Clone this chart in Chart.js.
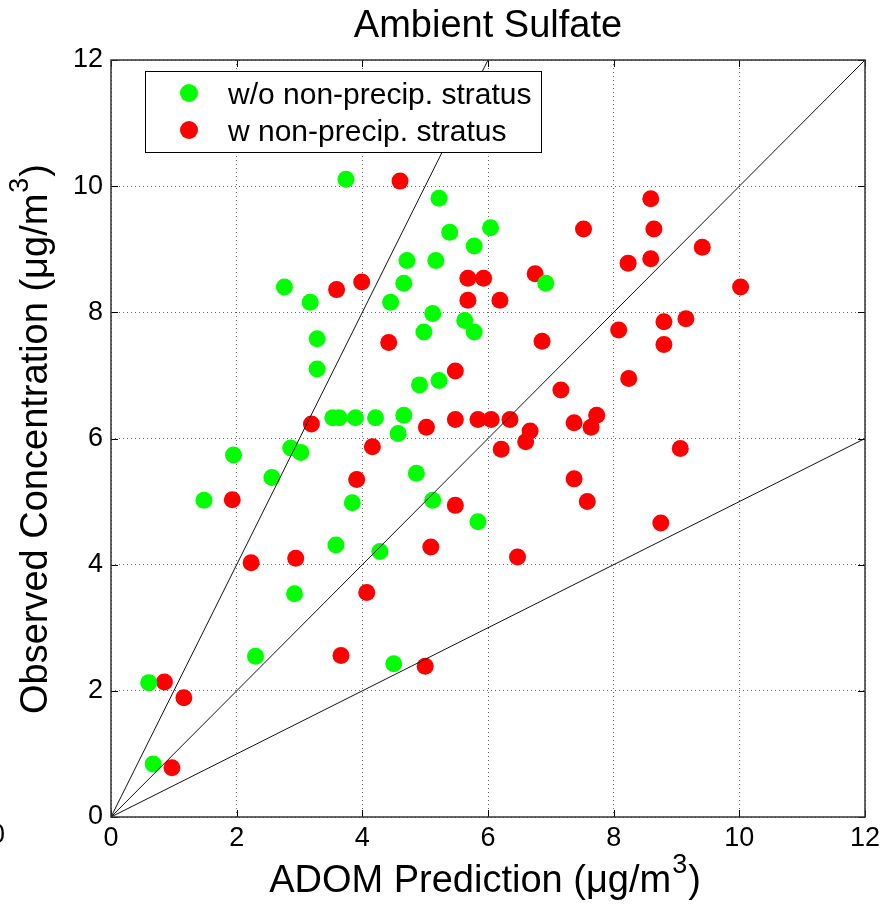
<!DOCTYPE html>
<html><head><meta charset="utf-8">
<script src="https://cdn.jsdelivr.net/npm/chart.js@4"></script>
<style>html,body{margin:0;padding:0;background:#fff}canvas{display:block}</style>
</head><body>
<canvas id="c" width="895" height="907"></canvas>
<script>
const titleText = 'Ambient Sulfate';
const seriesLabels = ['w/o non-precip. stratus', 'w non-precip. stratus'];
const xTicks = [0, 2, 4, 6, 8, 10, 12];
const yTicks = [0, 2, 4, 6, 8, 10, 12];

const greenX = [3.74,2.76,3.17,3.28,3.28,3.53,3.63,3.89,4.21,1.95,2.86,3.02,2.56,5.22,5.39,6.04,5.78,4.71,5.17,6.92,4.66,4.45,5.12,5.63,5.78,4.98,5.22,4.91,4.66,4.57,4.86,1.48,3.84,3.58,4.28,2.92,2.30,0.60,0.67,5.12,5.84,4.50];
const greenY = [10.11,8.40,8.16,7.58,7.10,6.33,6.33,6.33,6.33,5.74,5.85,5.78,5.38,9.81,9.27,9.34,9.05,8.82,8.82,8.46,8.46,8.16,7.98,7.87,7.69,7.69,6.92,6.85,6.37,6.08,5.45,5.02,4.98,4.31,4.21,3.54,2.55,2.13,0.84,5.02,4.68,2.43];

const redX = [3.59,3.99,3.19,4.16,3.91,4.60,7.52,8.23,5.68,5.93,6.75,5.68,6.19,4.42,6.86,8.08,8.24,5.48,7.16,5.02,5.48,5.84,6.05,6.35,6.67,6.60,7.37,7.73,7.64,6.21,7.37,8.59,8.64,8.59,9.41,10.02,8.80,9.15,8.80,9.06,1.93,2.23,2.94,4.07,3.66,0.85,1.16,0.97,5.48,7.58,5.09,6.47,5.00,8.75];
const redY = [8.36,8.48,6.23,5.87,5.35,10.08,9.32,8.78,8.54,8.54,8.61,8.19,8.19,7.52,7.54,7.72,6.95,7.07,6.77,6.18,6.30,6.30,6.30,6.30,6.12,5.95,6.25,6.37,6.18,5.83,5.36,9.80,9.32,8.85,9.03,8.40,7.85,7.90,7.49,5.84,5.03,4.03,4.10,3.56,2.56,2.14,1.89,0.78,4.94,5.00,4.28,4.12,2.39,4.66];

// reference lines (2:1, 1:1, 1:2)
const refX = [[0, 6], [0, 12], [0, 12]];
const refY = [[0, 12], [0, 12], [0, 6]];

const FONT = '"Liberation Sans", Arial, Helvetica, sans-serif';
const GREEN = '#00ff00', RED = '#ff0000';

const pts = (xs, ys) => xs.map((v, i) => ({x: v, y: ys[i]}));

const datasets = [];
refX.forEach((xs, k) => datasets.push({
  type: 'line', data: pts(xs, refY[k]), borderColor: '#111', borderWidth: 1,
  pointRadius: 0, fill: false, order: 0
}));
datasets.push({label: seriesLabels[0], data: pts(greenX, greenY), backgroundColor: GREEN,
  borderWidth: 0, pointRadius: 8.5, pointHoverRadius: 8.5, order: 1});
datasets.push({label: seriesLabels[1], data: pts(redX, redY), backgroundColor: RED,
  borderWidth: 0, pointRadius: 8.5, pointHoverRadius: 8.5, order: 2});

function drawSupText(ctx, main, sup, tail, x, y, size) {
  ctx.font = size + 'px ' + FONT;
  const w1 = ctx.measureText(main).width;
  const w3 = ctx.measureText(tail).width;
  const ss = Math.round(size * 0.72);
  ctx.font = ss + 'px ' + FONT;
  const w2 = ctx.measureText(sup).width;
  let sx = x - (w1 + w2 + w3) / 2;
  ctx.textAlign = 'left';
  ctx.textBaseline = 'alphabetic';
  ctx.font = size + 'px ' + FONT;
  ctx.fillText(main, sx, y);
  ctx.font = ss + 'px ' + FONT;
  ctx.fillText(sup, sx + w1 + 1, y - size * 0.5);
  ctx.font = size + 'px ' + FONT;
  ctx.fillText(tail, sx + w1 + w2 + 2, y);
}

const frame = {
  id: 'frame',
  afterDraw(chart) {
    const {ctx, chartArea: a, scales: {x, y}} = chart;
    ctx.save();
    // inward ticks
    ctx.strokeStyle = '#000'; ctx.lineWidth = 1;
    ctx.beginPath();
    xTicks.forEach(v => {
      const px = Math.round(x.getPixelForValue(v)) + 0.5;
      ctx.moveTo(px, a.bottom); ctx.lineTo(px, a.bottom - 7);
      ctx.moveTo(px, a.top); ctx.lineTo(px, a.top + 7);
    });
    yTicks.forEach(v => {
      const py = Math.round(y.getPixelForValue(v)) + 0.5;
      ctx.moveTo(a.left, py); ctx.lineTo(a.left + 7, py);
      ctx.moveTo(a.right, py); ctx.lineTo(a.right - 7, py);
    });
    ctx.stroke();
    // box
    ctx.lineWidth = 1.5; ctx.strokeStyle = '#333';
    ctx.strokeRect(a.left, a.top, a.right - a.left, a.bottom - a.top);

    // legend
    ctx.fillStyle = '#fff';
    ctx.fillRect(145, 71, 396, 81);
    ctx.lineWidth = 1; ctx.strokeStyle = '#000';
    ctx.strokeRect(145.5, 71.5, 396, 81);
    const lcol = [GREEN, RED];
    const lby = [104, 141];
    ctx.font = '30px ' + FONT;
    ctx.textAlign = 'left'; ctx.textBaseline = 'alphabetic';
    seriesLabels.forEach((t, i) => {
      ctx.fillStyle = lcol[i];
      ctx.beginPath(); ctx.arc(189, lby[i] - 11, 9, 0, Math.PI * 2); ctx.fill();
      ctx.fillStyle = '#000';
      ctx.fillText(t, 228, lby[i]);
    });

    // title
    ctx.fillStyle = '#000';
    ctx.font = '38px ' + FONT;
    ctx.textAlign = 'center'; ctx.textBaseline = 'alphabetic';
    ctx.fillText(titleText, (a.left + a.right) / 2, 37);

    // x title
    drawSupText(ctx, 'ADOM Prediction (\u03bcg/m', '3', ')', (a.left + a.right) / 2 - 4, 892, 38);

    // y title (rotated)
    ctx.save();
    ctx.translate(47, 440);
    ctx.rotate(-Math.PI / 2);
    drawSupText(ctx, 'Observed Concentration (\u03bcg/m', '3', ')', 0, 0, 38);
    ctx.restore();

    // stray clipped tick label at far left edge
    ctx.font = '27px ' + FONT;
    ctx.textAlign = 'right'; ctx.textBaseline = 'top';
    ctx.fillText('0', 5, 822);
    ctx.restore();
  }
};

new Chart(document.getElementById('c'), {
  type: 'scatter',
  data: {datasets},
  options: {
    responsive: false, animation: false, devicePixelRatio: 1,
    layout: {padding: {top: 60, right: 30, left: 0, bottom: 0}},
    plugins: {legend: {display: false}, tooltip: {enabled: false}, title: {display: false}},
    scales: {
      x: {
        type: 'linear', min: 0, max: 12,
        afterBuildTicks: s => { s.ticks = xTicks.map(v => ({value: v})); },
        afterFit: s => { s.height = 90; },
        ticks: {color: '#000', font: {family: FONT, size: 27}, padding: 5, maxRotation: 0},
        grid: {color: 'rgba(0,0,0,0.6)', lineWidth: 1, drawTicks: false},
        border: {display: false, dash: [1, 3]}
      },
      y: {
        type: 'linear', min: 0, max: 12,
        afterBuildTicks: s => { s.ticks = yTicks.map(v => ({value: v})); },
        afterFit: s => { s.width = 111; },
        ticks: {color: '#000', font: {family: FONT, size: 27}, padding: 8},
        grid: {color: 'rgba(0,0,0,0.6)', lineWidth: 1, drawTicks: false},
        border: {display: false, dash: [1, 3]}
      }
    }
  },
  plugins: [frame]
});
</script>
</body></html>
